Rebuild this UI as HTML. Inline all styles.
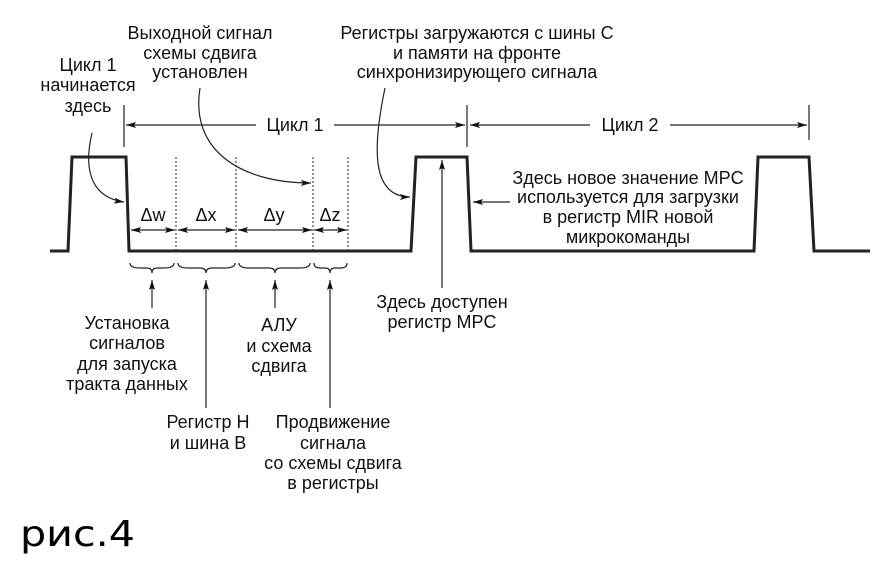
<!DOCTYPE html>
<html><head><meta charset="utf-8"><style>
html,body{margin:0;padding:0;background:#fff}
svg{display:block}
text{font-family:"Liberation Sans",Arial,sans-serif;font-size:18px;fill:#111;text-anchor:middle}
</style></head><body>
<svg width="894" height="561" viewBox="0 0 894 561" xmlns="http://www.w3.org/2000/svg">
<defs>
<marker id="a" viewBox="0 0 10 6" refX="10" refY="3" markerWidth="10" markerHeight="6" orient="auto" markerUnits="userSpaceOnUse"><path d="M0,0 L10,3 L0,6 L2,3 z" fill="#111"/></marker>
</defs>
<polyline points="50,251 68,251 72,157 126,157 129,251 411,251 416,157 467,157 471,251 754,251 758,157 809,157 814,251 870,251" fill="none" stroke="#222" stroke-width="3"/>
<g stroke="#222" stroke-width="1" stroke-dasharray="2,2">
<line x1="176" y1="157" x2="176" y2="251"/><line x1="236" y1="157" x2="236" y2="251"/>
<line x1="313" y1="157" x2="313" y2="251"/><line x1="348" y1="157" x2="348" y2="251"/>
</g>
<g stroke="#222" stroke-width="1.2" fill="none">
<line x1="124" y1="105" x2="124" y2="147"/><line x1="467" y1="105" x2="467" y2="147"/><line x1="809" y1="105" x2="809" y2="140"/>
<line x1="256" y1="125" x2="126" y2="125" marker-end="url(#a)"/>
<line x1="334" y1="125" x2="465" y2="125" marker-end="url(#a)"/>
<line x1="590" y1="125" x2="470" y2="125" marker-end="url(#a)"/>
<line x1="670" y1="125" x2="807" y2="125" marker-end="url(#a)"/>
<line x1="153" y1="230" x2="131" y2="230" marker-end="url(#a)"/><line x1="153" y1="230" x2="175" y2="230" marker-end="url(#a)"/>
<line x1="206" y1="230" x2="178" y2="230" marker-end="url(#a)"/><line x1="206" y1="230" x2="235" y2="230" marker-end="url(#a)"/>
<line x1="274" y1="230" x2="238" y2="230" marker-end="url(#a)"/><line x1="274" y1="230" x2="312" y2="230" marker-end="url(#a)"/>
<line x1="330" y1="230" x2="314" y2="230" marker-end="url(#a)"/><line x1="330" y1="230" x2="347" y2="230" marker-end="url(#a)"/>
<path d="M130,263 Q130,268 140,268 L147,268 Q152,268 152,273 Q152,268 157,268 L164,268 Q174,268 174,263"/>
<path d="M178,263 Q178,268 188,268 L200,268 Q206,268 206,273 Q206,268 212,268 L225,268 Q235,268 235,263"/>
<path d="M239,263 Q239,268 249,268 L269,268 Q275,268 275,273 Q275,268 281,268 L300,268 Q310,268 310,263"/>
<path d="M314,263 Q314,268 320,268 L325,268 Q330,268 330,273 Q330,268 335,268 L341,268 Q347,268 347,263"/>
<line x1="152" y1="308" x2="152" y2="280" marker-end="url(#a)"/>
<line x1="206" y1="408" x2="206" y2="280" marker-end="url(#a)"/>
<line x1="275" y1="308" x2="275" y2="280" marker-end="url(#a)"/>
<line x1="330" y1="408" x2="330" y2="280" marker-end="url(#a)"/>
<line x1="442" y1="288" x2="442" y2="160" marker-end="url(#a)"/>
<path d="M92,133 C82,175 95,198 124,202" marker-end="url(#a)"/>
<path d="M200,88 C190,150 240,183 311,183" marker-end="url(#a)"/>
<path d="M385,88 C372,150 372,197 410,197" marker-end="url(#a)"/>
<line x1="510" y1="202" x2="473" y2="202" marker-end="url(#a)"/>
</g>
<text x="295" y="131">Цикл 1</text>
<text x="630" y="131">Цикл 2</text>
<text x="153" y="221">Δw</text><text x="206" y="221">Δx</text><text x="274" y="221">Δy</text><text x="330" y="221">Δz</text>
<text x="88" y="71">Цикл 1</text><text x="88" y="91">начинается</text><text x="88" y="112">здесь</text>
<text x="200" y="39">Выходной сигнал</text><text x="200" y="59">схемы сдвига</text><text x="200" y="78">установлен</text>
<text x="477" y="39">Регистры загружаются с шины С</text><text x="477" y="59">и памяти на фронте</text><text x="477" y="78">синхронизирующего сигнала</text>
<text x="628" y="184">Здесь новое значение MPC</text><text x="628" y="203">используется для загрузки</text><text x="628" y="223">в регистр MIR новой</text><text x="628" y="243">микрокоманды</text>
<text x="127" y="329">Установка</text><text x="127" y="349">сигналов</text><text x="127" y="370">для запуска</text><text x="127" y="390">тракта данных</text>
<text x="279" y="331">АЛУ</text><text x="279" y="352">и схема</text><text x="279" y="372">сдвига</text>
<text x="442" y="308">Здесь доступен</text><text x="442" y="328">регистр MPC</text>
<text x="208" y="428">Регистр Н</text><text x="208" y="449">и шина В</text>
<text x="333" y="428">Продвижение</text><text x="333" y="449">сигнала</text><text x="333" y="469">со схемы сдвига</text><text x="333" y="489">в регистры</text>
<text x="20" y="546" style="text-anchor:start;font-family:'DejaVu Sans',sans-serif;font-size:36px;fill:#000" textLength="115" lengthAdjust="spacingAndGlyphs">рис.4</text>
</svg>
</body></html>
